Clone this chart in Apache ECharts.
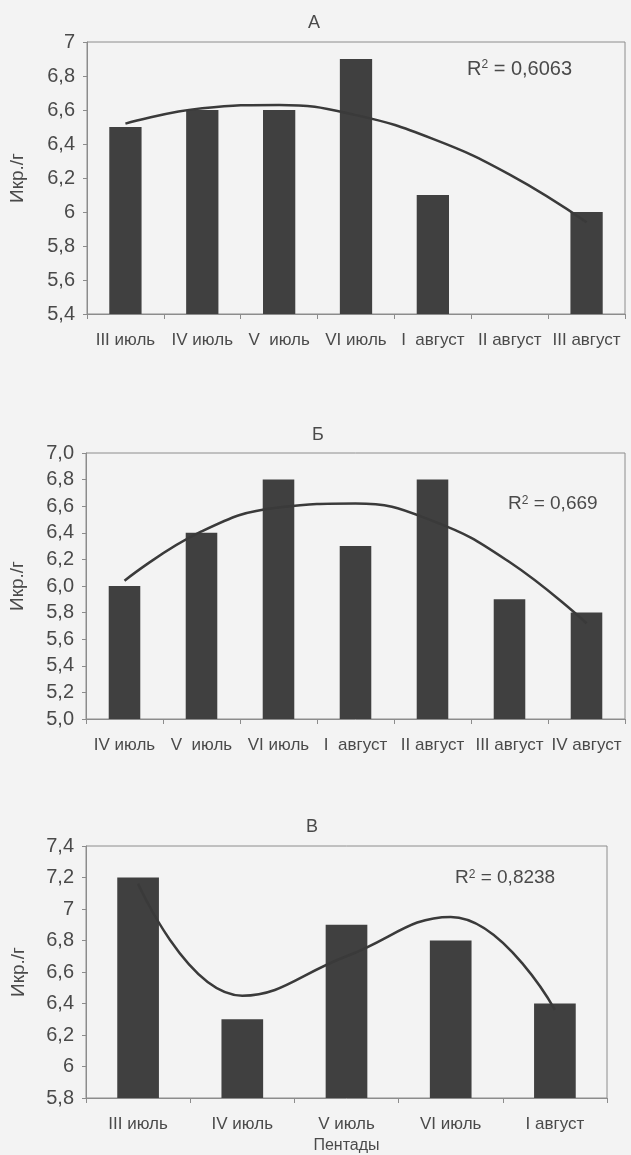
<!DOCTYPE html>
<html>
<head>
<meta charset="utf-8">
<script src="https://cdn.jsdelivr.net/npm/echarts@6/dist/echarts.min.js"></script>
<style>
  html, body { margin: 0; padding: 0; background: #f3f3f3; }
  #chart { width: 631px; height: 1155px; }
</style>
</head>
<body>
<div id="chart"></div>
<script>
// Panel А
const catsA = ['III июль', 'IV июль', 'V  июль', 'VI июль', 'I  август', 'II август', 'III август'];
const valsA = [6.5, 6.6, 6.6, 6.9, 6.1, null, 6.0];
const trendA = [6.52, 6.61, 6.63, 6.57, 6.43, 6.22, 5.94];
const r2A = '0,6063';

// Panel Б
const catsB = ['IV июль', 'V  июль', 'VI июль', 'I  август', 'II август', 'III август', 'IV август'];
const valsB = [6.0, 6.4, 6.8, 6.3, 6.8, 5.9, 5.8];
const trendB = [6.04, 6.41, 6.59, 6.62, 6.49, 6.18, 5.72];
const r2B = '0,669';

// Panel В
const catsC = ['III июль', 'IV июль', 'V июль', 'VI июль', 'I август'];
const valsC = [7.2, 6.3, 6.9, 6.8, 6.4];
const trendC = [7.16, 6.45, 6.70, 6.95, 6.36];
const r2C = '0,8238';

const FONT = "'Liberation Sans', Arial, sans-serif";
const TXT = '#4a4a4a';
const BAR = '#404040';
const LINE = '#3a3a3a';
const AXIS = '#8c8c8c';

// number formats: general (А, В) and fixed one decimal (Б)
const fmtGeneral = v => String(Math.round(v * 10) / 10).replace('.', ',');
const fmtFixed = v => (Math.round(v * 10) / 10).toFixed(1).replace('.', ',');

const panels = [
  { cats: catsA, vals: valsA, trend: trendA, min: 5.4, max: 7.0, fmt: fmtGeneral,
    grid: { left: 77, right: 6, top: 42, height: 272 }, nameGap: 60, gap: '58%' },
  { cats: catsB, vals: valsB, trend: trendB, min: 5.0, max: 7.0, fmt: fmtFixed,
    grid: { left: 85, right: 6, top: 453, height: 266 }, nameGap: 59, gap: '59%' },
  { cats: catsC, vals: valsC, trend: trendC, min: 5.8, max: 7.4, fmt: fmtGeneral,
    grid: { left: 86, right: 24, top: 846, height: 252 }, nameGap: 58, gap: '60%',
    xName: 'Пентады' }
];

const grid = [], xAxis = [], yAxis = [], series = [];
panels.forEach((p, i) => {
  grid.push(Object.assign({ show: true, borderColor: AXIS, borderWidth: 1,
    backgroundColor: 'transparent' }, p.grid));
  xAxis.push({
    type: 'category', gridIndex: i, data: p.cats,
    axisLine: { lineStyle: { color: AXIS, width: 1 } },
    axisTick: { show: true, length: 5, lineStyle: { color: AXIS } },
    axisLabel: { interval: 0, margin: 18, color: TXT, fontFamily: FONT, fontSize: 17 },
    name: p.xName || '', nameLocation: 'middle', nameGap: 40,
    nameTextStyle: { color: TXT, fontFamily: FONT, fontSize: 16 }
  });
  yAxis.push({
    type: 'value', gridIndex: i, min: p.min, max: p.max, interval: 0.2,
    splitLine: { show: false },
    axisLine: { show: true, lineStyle: { color: AXIS, width: 1 } },
    axisTick: { show: true, length: 4, lineStyle: { color: AXIS } },
    axisLabel: { margin: 12, color: TXT, fontFamily: FONT, fontSize: 20, formatter: p.fmt },
    name: 'Икр./г', nameLocation: 'middle', nameGap: p.nameGap, nameRotate: 90,
    nameTextStyle: { color: TXT, fontFamily: FONT, fontSize: 19 }
  });
  series.push({
    type: 'bar', xAxisIndex: i, yAxisIndex: i, data: p.vals,
    barCategoryGap: p.gap, itemStyle: { color: BAR }, z: 2, silent: true
  });
  series.push({
    type: 'line', xAxisIndex: i, yAxisIndex: i, data: p.trend,
    smooth: 0.45, symbol: 'none', lineStyle: { color: LINE, width: 2.5 }, z: 3, silent: true
  });
});

// panel letters
const letter = (x, y, text) => ({
  type: 'text', x: x, y: y, silent: true,
  style: { text: text, fill: TXT, font: '18px ' + FONT,
    textAlign: 'center', textVerticalAlign: 'middle' }
});
// R² captions with a raised "2"
const r2 = (x, y, value, size) => ({
  type: 'text', x: x, y: y, silent: true,
  style: {
    text: 'R{s|2} = ' + value, fill: TXT, font: size + 'px ' + FONT,
    textAlign: 'left', textVerticalAlign: 'middle',
    rich: { s: { fontSize: 12, fontFamily: FONT, fill: TXT, verticalAlign: 'top', lineHeight: size } }
  }
});
const graphic = [
  letter(314, 23, 'А'),
  letter(318, 435, 'Б'),
  letter(312, 827, 'В'),
  r2(467, 69, r2A, 20),
  r2(508, 504, r2B, 19),
  r2(455, 878, r2C, 19)
];

const chart = echarts.init(document.getElementById('chart'), null, { renderer: 'canvas' });
chart.setOption({
  backgroundColor: '#f3f3f3',
  animation: false,
  grid: grid, xAxis: xAxis, yAxis: yAxis, series: series, graphic: graphic
});
</script>
</body>
</html>
